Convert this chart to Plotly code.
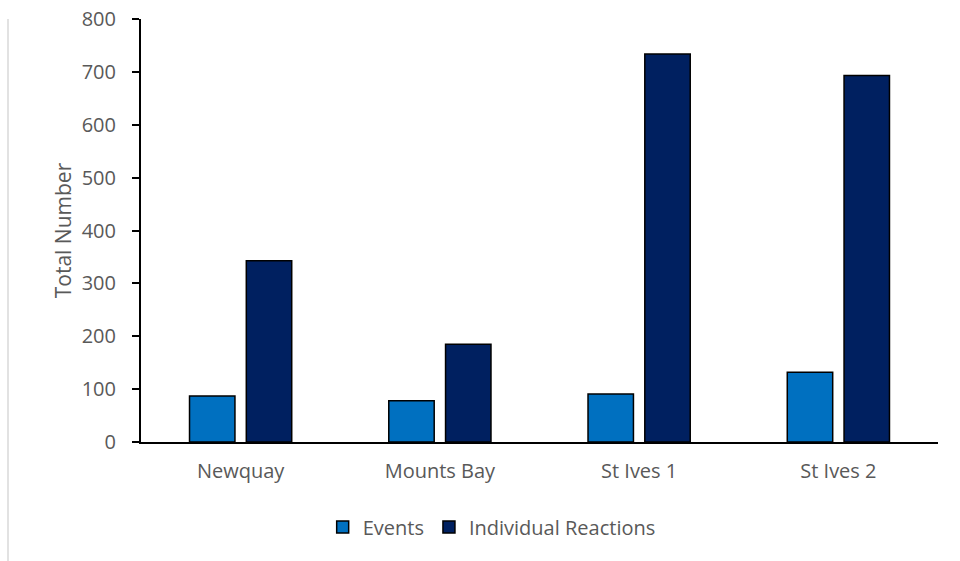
import plotly.graph_objects as go

categories = ["Newquay", "Mounts Bay", "St Ives 1", "St Ives 2"]
events = [87, 78, 91, 132]
individual_reactions = [343, 185, 734, 693]
y_ticks = [0, 100, 200, 300, 400, 500, 600, 700, 800]

font_family = "Open Sans, Liberation Sans, sans-serif"
text_color = "#595959"

fig = go.Figure()
fig.add_trace(go.Bar(
    x=categories, y=events, name="Events",
    marker=dict(color="#0070C0", line=dict(color="black", width=1.5)),
))
fig.add_trace(go.Bar(
    x=categories, y=individual_reactions, name="Individual Reactions",
    marker=dict(color="#002060", line=dict(color="black", width=1.5)),
))

fig.update_layout(
    width=960, height=561,
    margin=dict(l=141, r=22, t=19, b=119, autoexpand=False),
    paper_bgcolor="white", plot_bgcolor="white",
    barmode="group", bargap=0.43, bargroupgap=0.2,
    font=dict(family=font_family, size=21, color=text_color),
    showlegend=True,
    legend=dict(orientation="h", x=0.44, xanchor="center", y=-0.155, yanchor="top",
                font=dict(size=20, color=text_color), traceorder="normal",
                itemwidth=30),
    xaxis=dict(showline=True, linecolor="black", linewidth=2, ticks="",
               showgrid=False, automargin=False, ticklabelstandoff=10,
               tickfont=dict(size=20, color=text_color)),
    yaxis=dict(range=[0, 800], tickvals=y_ticks, showline=True, linecolor="black",
               linewidth=2, ticks="outside", ticklen=7, tickcolor="black", tickwidth=2,
               showgrid=False, zeroline=False, automargin=False, ticklabelstandoff=12,
               title=dict(text="Total Number", font=dict(size=21, color=text_color), standoff=4),
               tickfont=dict(size=20, color=text_color)),
    shapes=[dict(type="line", xref="paper", yref="paper",
                 x0=-133/797, x1=-133/797, y0=1.0, y1=-119/423,
                 line=dict(color="#D9D9D9", width=1.5))],
)

fig.write_html("out.html")
